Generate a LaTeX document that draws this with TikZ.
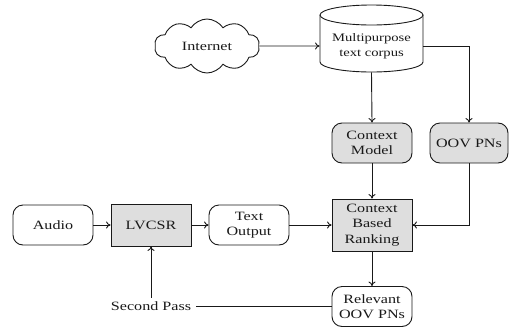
\documentclass[tikz,border=0pt]{standalone}
\usepackage{fontspec}
\setmainfont{Liberation Serif}[FakeStretch=1.27]
\usetikzlibrary{shapes.symbols,arrows.meta}
\begin{document}
\begin{tikzpicture}[x=1pt,y=-1pt,
  base/.style={draw=black!90, line width=0.9pt, font=\fontsize{12.7}{15.5}\selectfont, align=center, text=black!90, inner sep=1pt},
  rbox/.style={base, rounded corners=10pt, minimum width=80pt, minimum height=40pt, fill=white},
  gbox/.style={rbox, fill=black!13},
  sbox/.style={base, fill=black!13, minimum width=80pt, minimum height=42pt},
  link/.style={draw=black!90, line width=0.9pt},
  arr/.style={link, -{To[length=4.5pt,width=7pt]}},
]
\useasboundingbox (0,0) rectangle (511,327);
% cloud
\node[base, cloud, cloud puffs=10, cloud puff arc=115, aspect=2, minimum width=105pt, minimum height=54pt] (inet) at (207,46) {Internet};
% cylinder
\draw[link, fill=white] (320,15) -- (320,62) .. controls (320,67.52) and (343.06,72) .. (371.5,72) .. controls (399.94,72) and (423,67.52) .. (423,62) -- (423,15);
\draw[link, fill=white] (371.5,15) ellipse [x radius=51.5, y radius=10];
\node[base, draw=none, minimum width=103pt, minimum height=52pt, font=\fontsize{11.5}{15}\selectfont] (corpus) at (371.5,46) {Multipurpose\\text corpus};
% nodes
\node[rbox] (audio) at (53,225) {Audio};
\node[sbox] (lvcsr) at (151,225) {LVCSR};
\node[rbox] (textout) at (249,225) {Text\\Output};
\node[gbox] (cmodel) at (372,143) {Context\\Model};
\node[gbox, minimum width=78pt] (oov) at (469,143) {OOV PNs};
\node[sbox, minimum height=52pt] (rank) at (372,225) {Context\\Based\\Ranking};
\node[rbox] (relev) at (372,306.5) {Relevant\\OOV PNs};
\node[base, draw=none, inner sep=4pt] (second) at (151,306.5) {Second Pass};
% connectors
\draw[arr] (inet) -- (corpus);
\draw[arr] (corpus.east) -| (oov.north);
\draw[arr] (corpus.south) -- (cmodel.north);
\draw[arr] (cmodel) -- (rank);
\draw[arr] (oov.south) |- (rank.east);
\draw[arr] (audio) -- (lvcsr);
\draw[arr] (lvcsr) -- (textout);
\draw[arr] (textout) -- (rank);
\draw[arr] (rank) -- (relev);
\draw[link] (relev.west) -- (second.east);
\draw[arr] (second) -- (lvcsr);
\end{tikzpicture}
\end{document}
